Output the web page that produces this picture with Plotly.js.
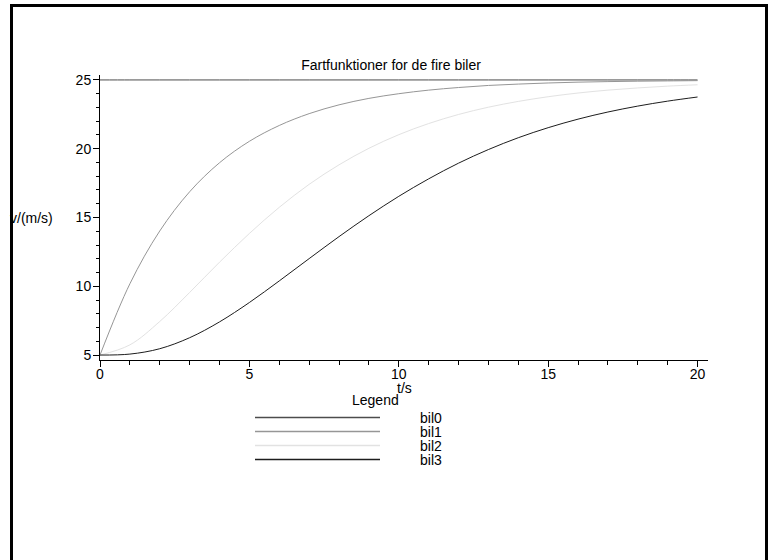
<!DOCTYPE html>
<html>
<head>
<meta charset="utf-8">
<script src="https://cdn.plot.ly/plotly-3.0.1.min.js"></script>
<style>
html,body{margin:0;padding:0;background:#fff;}
#chart{width:774px;height:560px;}
</style>
</head>
<body>
<div id="chart"></div>
<script>
// Data
var tValues = [0,1,2,3,4,5,6,7,8,9,10,11,12,13,14,15,16,17,18,19,20];
var bil0 = [25,25,25,25,25,25,25,25,25,25,25,25,25,25,25,25,25,25,25,25,25];
var bil1 = [5,10.18,14.02,16.87,18.98,20.54,21.69,22.55,23.19,23.66,24.00,24.26,24.45,24.60,24.70,24.78,24.84,24.88,24.91,24.93,24.95];
var bil2 = [5,5.74,7.44,9.55,11.75,13.84,15.74,17.41,18.83,20.03,21.02,21.83,22.49,23.02,23.44,23.78,24.05,24.26,24.42,24.55,24.65];
var bil3 = [5,5.07,5.46,6.26,7.41,8.82,10.39,12.01,13.61,15.13,16.54,17.81,18.95,19.94,20.80,21.53,22.15,22.67,23.10,23.46,23.76];
var seriesNames = ["bil0","bil1","bil2","bil3"];
var seriesColors = ["#4c4c4c","#969696","#e2e2e2","#1d1d1d"];
var xTickVals = [0,5,10,15,20];
var yTickVals = [5,10,15,20,25];
var titleText = "Fartfunktioner for de fire biler";
var xTitle = "t/s";
var yTitle = "v/(m/s)";
var legendTitle = "Legend";

var FONT = "Liberation Sans, Arial, Helvetica, sans-serif";
var allSeries = [bil0, bil1, bil2, bil3];

var traces = allSeries.map(function(s, i){
  return {
    x: tValues, y: s, type: "scatter", mode: "lines", name: seriesNames[i],
    line: {color: seriesColors[i], width: 1, shape: "spline", smoothing: 1},
    showlegend: false, hoverinfo: "skip"
  };
});

// pixel helpers for layout decorations (plot area: x 100..708, y 75..360)
var L = 100, R = 708, T = 75, B = 360;
function px(p){ return (p - L) / (R - L); }
function py(p){ return (B - p) / (B - T); }

var shapes = [];
var annotations = [];

// outer frame
shapes.push({type:"rect", xref:"paper", yref:"paper",
  x0: px(11.5), x1: px(766.5), y0: py(575), y1: py(5.5),
  line:{color:"#000", width:3}, fillcolor:"rgba(0,0,0,0)", layer:"above"});

// custom legend
var legYs = [417.5, 431.5, 445.5, 459.5];
seriesNames.forEach(function(n, i){
  shapes.push({type:"line", xref:"paper", yref:"paper",
    x0: px(255), x1: px(380), y0: py(legYs[i]), y1: py(legYs[i]),
    line:{color: seriesColors[i], width: 1.5}});
  annotations.push({xref:"paper", yref:"paper", x: px(418), y: py(legYs[i]),
    xanchor:"left", yanchor:"middle", text: n, showarrow:false,
    font:{family:FONT, size:14, color:"#000"}});
});
annotations.push({xref:"paper", yref:"paper", x: px(375), y: py(400),
  xanchor:"center", yanchor:"middle", text: legendTitle, showarrow:false,
  font:{family:FONT, size:14, color:"#000"}});
annotations.push({xref:"paper", yref:"paper", x: px(404), y: py(388),
  xanchor:"center", yanchor:"middle", text: xTitle, showarrow:false,
  font:{family:FONT, size:14, color:"#000"}});
annotations.push({xref:"paper", yref:"y", x: px(55), y: 15,
  xanchor:"right", yanchor:"middle", text: yTitle, showarrow:false,
  font:{family:FONT, size:14, color:"#000"}});

var layout = {
  width: 774, height: 560,
  margin: {l: L, r: 774 - R, t: T, b: 560 - B, pad: 0},
  paper_bgcolor: "#fff", plot_bgcolor: "#fff",
  font: {family: FONT, size: 14, color: "#000"},
  title: {text: titleText, x: 391/774, xref: "container", xanchor: "center",
          y: 1 - 65/560, yref: "container", yanchor: "middle",
          font: {family: FONT, size: 14, color: "#000"}},
  showlegend: false,
  xaxis: {range: [0, 20.35], tickvals: xTickVals, ticktext: xTickVals.map(String),
    showgrid: false, zeroline: false, showline: true, linecolor: "#000", linewidth: 1,
    ticks: "outside", ticklen: 6, tickcolor: "#000", tickwidth: 1, ticklabelstandoff: -5,
    minor: {dtick: 1, tick0: 0, ticks: "outside", ticklen: 4, tickcolor: "#000", showgrid: false},
    tickfont: {family: FONT, size: 14, color: "#000"}, fixedrange: true},
  yaxis: {range: [4.64, 25.36], tickvals: yTickVals, ticktext: yTickVals.map(String),
    showgrid: false, zeroline: false, showline: true, linecolor: "#000", linewidth: 1,
    ticks: "outside", ticklen: 6, tickcolor: "#000", tickwidth: 1, ticklabelstandoff: -1,
    minor: {dtick: 1, tick0: 0, ticks: "outside", ticklen: 3, tickcolor: "#000", showgrid: false},
    tickfont: {family: FONT, size: 14, color: "#000"}, fixedrange: true},
  shapes: shapes,
  annotations: annotations
};

Plotly.newPlot("chart", traces, layout, {displayModeBar: false, staticPlot: true});
</script>
</body>
</html>
